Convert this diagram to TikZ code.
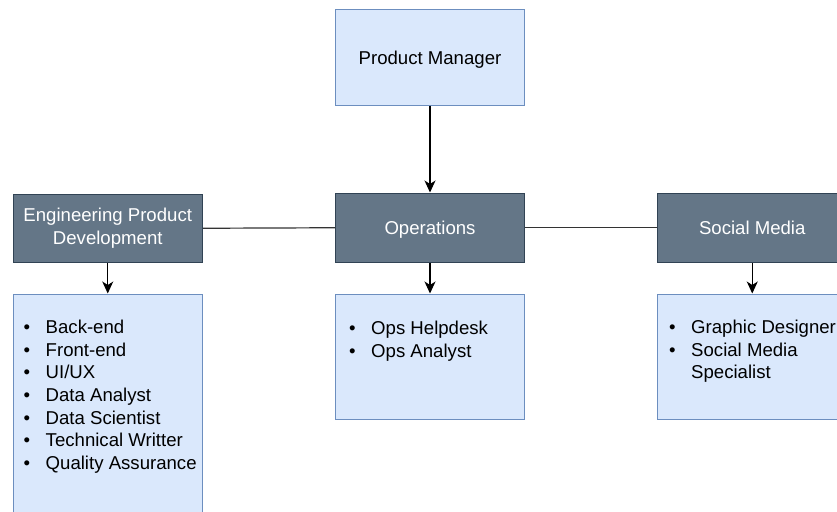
\documentclass[tikz,border=0pt]{standalone}
\usepackage{fontspec}
\setmainfont{Liberation Sans}
\usetikzlibrary{arrows.meta}
\definecolor{lightfill}{HTML}{DAE8FC}
\definecolor{lightline}{HTML}{6C8EBF}
\definecolor{darkfill}{HTML}{647687}
\definecolor{darkline}{HTML}{314354}
\tikzset{
  base/.style={rectangle, inner sep=0pt, line width=1pt, anchor=north west,
    minimum width=189.5pt, font=\fontsize{18.6}{22.6}\selectfont},
  lightbox/.style={base, draw=lightline, fill=lightfill, text=black},
  darkbox/.style={base, draw=darkline, fill=darkfill, text=white},
  oneline/.style={text height=13.3pt, text depth=0pt},
  listtext/.style={inner sep=0pt, anchor=north west, text=black,
    font=\fontsize{18.6}{22.6}\selectfont},
  arrow/.style={draw=black, line width=1.2pt, -{Stealth[length=12pt, width=11pt, inset=3.5pt]}},
  link/.style={draw=black!80, line width=1.2pt},
}
\newcommand{\itemlist}[1]{\begin{tabular}{@{}c@{\hspace{15.5pt}}l@{}}#1\end{tabular}}
\begin{document}
\begin{tikzpicture}[x=1pt, y=-1pt]
  \useasboundingbox (0,0) rectangle (837,511);
  \clip (0,0) rectangle (837,511);
  \fill[white] (0,0) rectangle (837,511);

  % top level
  \node[lightbox, oneline, minimum height=95pt, minimum width=189pt] (pm) at (335,9.5) {Product Manager};

  % second level headers
  \node[darkbox, align=center, minimum height=68.5pt] (eng) at (12.5,193.5)
    {\rule{0pt}{13.3pt}Engineering Product\\Development\rule[-1pt]{0pt}{1pt}};
  \node[darkbox, oneline, minimum height=69.5pt, minimum width=189pt] (ops) at (335,192.5) {Operations};
  \node[darkbox, oneline, minimum height=69.5pt] (soc) at (657,192.5) {Social Media};

  % list boxes
  \node[lightbox, minimum height=240pt] (englist) at (12.5,293.5) {};
  \node[lightbox, minimum height=125pt, minimum width=189pt] (opslist) at (335,293.5) {};
  \node[lightbox, minimum height=125pt] (soclist) at (657,293.5) {};

  % list contents
  \node[listtext] (engitems) at (23.5,317.7) {\itemlist{%
    • & Back-end\\ • & Front-end\\ • & UI/UX\\ • & Data Analyst\\
    • & Data Scientist\\ • & Technical Writter\\ • & Quality Assurance}};
  \node[listtext] (opsitems) at (349,318.5) {\itemlist{%
    • & Ops Helpdesk\\ • & Ops Analyst}};
  \node[listtext] (socitems) at (669,317.5) {\itemlist{%
    • & Graphic Designer\\ • & Social Media\\ & Specialist}};

  % connectors
  \draw[arrow] (pm) -- (ops);
  \draw[arrow] (eng) -- (englist);
  \draw[arrow] (ops) -- (opslist);
  \draw[arrow] (soc) -- (soclist);
  \draw[link] (eng.east) -- (ops.west);
  \draw[link] (ops.east) -- (soc.west);
\end{tikzpicture}
\end{document}
